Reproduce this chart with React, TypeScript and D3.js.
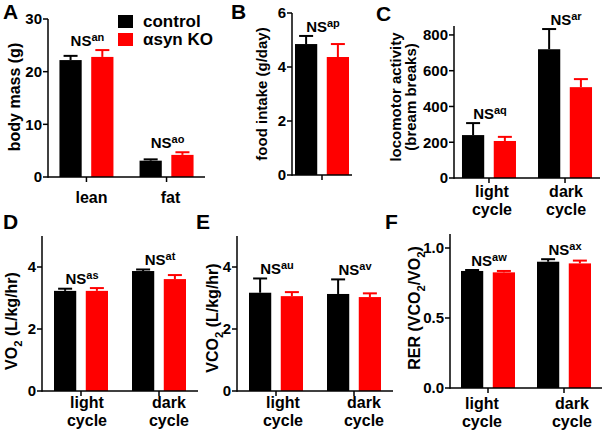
import React from "react";
import * as d3 from "d3";

// ---------- data ----------
const seriesNames = ["control", "αsyn KO"];
const seriesColors = ["#000000", "#ff0000"];

const massCategories = ["lean", "fat"];
const massControl = [22.2, 3.1];
const massControlErr = [0.8, 0.25];
const massKO = [22.8, 4.2];
const massKOErr = [1.3, 0.5];
const massNS = ["an", "ao"];
const massTicks = [0, 10, 20, 30];

const foodCategories = ["food"];
const foodControl = [4.85];
const foodControlErr = [0.3];
const foodKO = [4.37];
const foodKOErr = [0.48];
const foodNS = ["ap"];
const foodTicks = [0, 2, 4, 6];

const cycleCategories = ["light cycle", "dark cycle"];

const locoControl = [240, 720];
const locoControlErr = [67, 113];
const locoKO = [207, 508];
const locoKOErr = [23, 45];
const locoNS = ["aq", "ar"];
const locoTicks = [0, 200, 400, 600, 800];

const vo2Control = [3.23, 3.87];
const vo2ControlErr = [0.07, 0.05];
const vo2KO = [3.23, 3.61];
const vo2KOErr = [0.09, 0.13];
const vo2NS = ["as", "at"];
const vo2Ticks = [0, 2, 4];

const vco2Control = [3.17, 3.13];
const vco2ControlErr = [0.46, 0.47];
const vco2KO = [3.06, 3.03];
const vco2KOErr = [0.13, 0.12];
const vco2NS = ["au", "av"];
const vco2Ticks = [0, 2, 4];

const rerControl = [0.836, 0.902];
const rerControlErr = [0.007, 0.018];
const rerKO = [0.826, 0.89];
const rerKOErr = [0.01, 0.02];
const rerNS = ["aw", "ax"];
const rerTicks = [0, 0.5, 1.0];

// ---------- layout ----------
type Seg = { t: string; sub?: boolean };
interface Panel {
  letter: string;
  letterPos: [number, number];
  categories: string[];
  showCatLabels: boolean;
  values: number[][];
  errors: number[][];
  ns: string[];
  ticks: number[];
  fmt: (v: number) => string;
  yDomain: [number, number];
  yRange: [number, number];
  xRange: [number, number];
  pad: number;
  yLabel: Seg[][];
  yLabelX: number[];
  yLabelY: number;
  yLabelSize: number;
  catY: number;
  catDx: number[];
}

const fmtInt = (v: number) => d3.format("d")(v);
const fmt1 = (v: number) => d3.format(".1f")(v);

const panels: Panel[] = [
  {
    letter: "A", letterPos: [3, 19],
    categories: massCategories, showCatLabels: true,
    values: [massControl, massKO], errors: [massControlErr, massKOErr], ns: massNS,
    ticks: massTicks, fmt: fmtInt, yDomain: [0, 30], yRange: [177, 19],
    xRange: [48, 205], pad: 0.48,
    yLabel: [[{ t: "body mass (g)" }]], yLabelX: [20], yLabelY: 97, yLabelSize: 16,
    catY: 203, catDx: [5, 4],
  },
  {
    letter: "B", letterPos: [231, 19],
    categories: foodCategories, showCatLabels: false,
    values: [foodControl, foodKO], errors: [foodControlErr, foodKOErr], ns: foodNS,
    ticks: foodTicks, fmt: fmtInt, yDomain: [0, 6], yRange: [175, 13],
    xRange: [292, 352], pad: 0.5,
    yLabel: [[{ t: "food intake (g/day)" }]], yLabelX: [267], yLabelY: 94, yLabelSize: 15,
    catY: 200, catDx: [0],
  },
  {
    letter: "C", letterPos: [376, 21],
    categories: cycleCategories, showCatLabels: true,
    values: [locoControl, locoKO], errors: [locoControlErr, locoKOErr], ns: locoNS,
    ticks: locoTicks, fmt: fmtInt, yDomain: [0, 850], yRange: [178, 26],
    xRange: [454, 600], pad: 0.46,
    yLabel: [[{ t: "locomotor activity" }], [{ t: "(bream breaks)" }]], yLabelX: [401, 416], yLabelY: 97, yLabelSize: 15,
    catY: 197, catDx: [3, 1],
  },
  {
    letter: "D", letterPos: [3, 229],
    categories: cycleCategories, showCatLabels: true,
    values: [vo2Control, vo2KO], errors: [vo2ControlErr, vo2KOErr], ns: vo2NS,
    ticks: vo2Ticks, fmt: fmtInt, yDomain: [0, 5], yRange: [391, 236],
    xRange: [42, 198], pad: 0.5,
    yLabel: [[{ t: "VO" }, { t: "2", sub: true }, { t: " (L/kg/hr)" }]], yLabelX: [17], yLabelY: 321, yLabelSize: 16,
    catY: 408, catDx: [6, 10],
  },
  {
    letter: "E", letterPos: [196, 229],
    categories: cycleCategories, showCatLabels: true,
    values: [vco2Control, vco2KO], errors: [vco2ControlErr, vco2KOErr], ns: vco2NS,
    ticks: vco2Ticks, fmt: fmtInt, yDomain: [0, 5], yRange: [391, 236],
    xRange: [237, 393], pad: 0.5,
    yLabel: [[{ t: "VCO" }, { t: "2", sub: true }, { t: " (L/kg/hr)" }]], yLabelX: [218], yLabelY: 318, yLabelSize: 16,
    catY: 408, catDx: [7, 10],
  },
  {
    letter: "F", letterPos: [385, 229],
    categories: cycleCategories, showCatLabels: true,
    values: [rerControl, rerKO], errors: [rerControlErr, rerKOErr], ns: rerNS,
    ticks: rerTicks, fmt: fmt1, yDomain: [0, 1.1], yRange: [388, 234],
    xRange: [450, 602], pad: 0.5,
    yLabel: [[{ t: "RER (VCO" }, { t: "2", sub: true }, { t: "/VO" }, { t: "2", sub: true }, { t: ")" }]], yLabelX: [420], yLabelY: 308, yLabelSize: 16,
    catY: 409, catDx: [-6, 8],
  },
];

const FONT = "'Liberation Sans', Arial, Helvetica, sans-serif";

function SegText({ segs }: { segs: Seg[] }) {
  const out: React.ReactNode[] = [];
  let shifted = false;
  segs.forEach((s, i) => {
    let dy = 0;
    if (s.sub && !shifted) { dy = 5; shifted = true; }
    else if (!s.sub && shifted) { dy = -5; shifted = false; }
    out.push(
      <tspan key={i} dy={dy} fontSize={s.sub ? "0.7em" : undefined}>{s.t}</tspan>
    );
  });
  return <>{out}</>;
}

function PanelView({ p }: { p: Panel }) {
  const y = d3.scaleLinear().domain(p.yDomain).range(p.yRange);
  const x = d3.scalePoint<string>().domain(p.categories).range(p.xRange).padding(p.pad);
  if (p.categories.length === 1) x.padding(0.5);
  const inner = d3.scaleBand<string>().domain(seriesNames).range([-27, 27]).paddingInner(0.3);
  const y0 = y(0);
  const [x0, x1] = p.xRange;
  const cap = 7;
  return (
    <g>
      <text x={p.letterPos[0]} y={p.letterPos[1]} fontSize={21} fontWeight="bold">{p.letter}</text>
      {p.categories.map((c, ci) =>
        seriesNames.map((s, si) => {
          const v = p.values[si][ci];
          const e = p.errors[si][ci];
          const bx = (x(c) as number) + (inner(s) as number);
          const cx = bx + inner.bandwidth() / 2;
          return (
            <g key={c + s}>
              <line x1={cx} x2={cx} y1={y(v)} y2={y(v + e)} stroke={seriesColors[si]} strokeWidth={2} />
              <line x1={cx - cap} x2={cx + cap} y1={y(v + e)} y2={y(v + e)} stroke={seriesColors[si]} strokeWidth={2} />
              <rect x={bx} y={y(v)} width={inner.bandwidth()} height={y0 - y(v)} fill={seriesColors[si]} />
            </g>
          );
        })
      )}
      {p.categories.map((c, ci) => {
        const top = d3.max(seriesNames.map((_, si) => p.values[si][ci] + p.errors[si][ci])) as number;
        return (
          <text key={"ns" + c} x={(x(c) as number) + 1} y={y(top) - 4} textAnchor="middle" fontSize={15} fontWeight="bold">
            NS<tspan dy={-5} fontSize={11}>{p.ns[ci]}</tspan>
          </text>
        );
      })}
      <line x1={x0} x2={x0} y1={y(p.yDomain[1])} y2={y0 + 0.75} stroke="#000" strokeWidth={1.5} />
      {p.ticks.map((t) => (
        <g key={"t" + t}>
          <line x1={x0 - 5} x2={x0} y1={y(t)} y2={y(t)} stroke="#000" strokeWidth={1.5} />
          <text x={x0 - 6} y={y(t)} dy="0.36em" textAnchor="end" fontSize={15} fontWeight="bold">{p.fmt(t)}</text>
        </g>
      ))}
      <line x1={x0} x2={x1} y1={y0} y2={y0} stroke="#000" strokeWidth={1.5} />
      {p.categories.map((c) => (
        <line key={"xt" + c} x1={x(c)} x2={x(c)} y1={y0} y2={y0 + 5} stroke="#000" strokeWidth={1.5} />
      ))}
      {p.showCatLabels && p.categories.map((c, ci) =>
        c.split(" ").map((w, wi) => (
          <text key={"cl" + c + wi} x={(x(c) as number) + p.catDx[ci]} y={p.catY + wi * 18} textAnchor="middle" fontSize={16} fontWeight="bold">
            {w}
          </text>
        ))
      )}
      {p.yLabel.map((line, li) => (
        <text key={"yl" + li} transform={`translate(${p.yLabelX[li]},${p.yLabelY}) rotate(-90)`} textAnchor="middle" fontSize={p.yLabelSize} fontWeight="bold">
          <SegText segs={line} />
        </text>
      ))}
    </g>
  );
}

function Legend() {
  return (
    <g>
      {seriesNames.map((s, i) => (
        <g key={s}>
          <rect x={118} y={15 + i * 18} width={15} height={13} fill={seriesColors[i]} />
          <text x={143} y={27 + i * 18} fontSize={17} fontWeight="bold">{s}</text>
        </g>
      ))}
    </g>
  );
}

export default function App() {
  return (
    <svg width={606} height={436} style={{ position: "absolute", left: 0, top: 0, background: "#fff" }} fontFamily={FONT}>
      <rect width={606} height={436} fill="#fff" />
      {panels.map((p) => <PanelView key={p.letter} p={p} />)}
      <Legend />
    </svg>
  );
}
